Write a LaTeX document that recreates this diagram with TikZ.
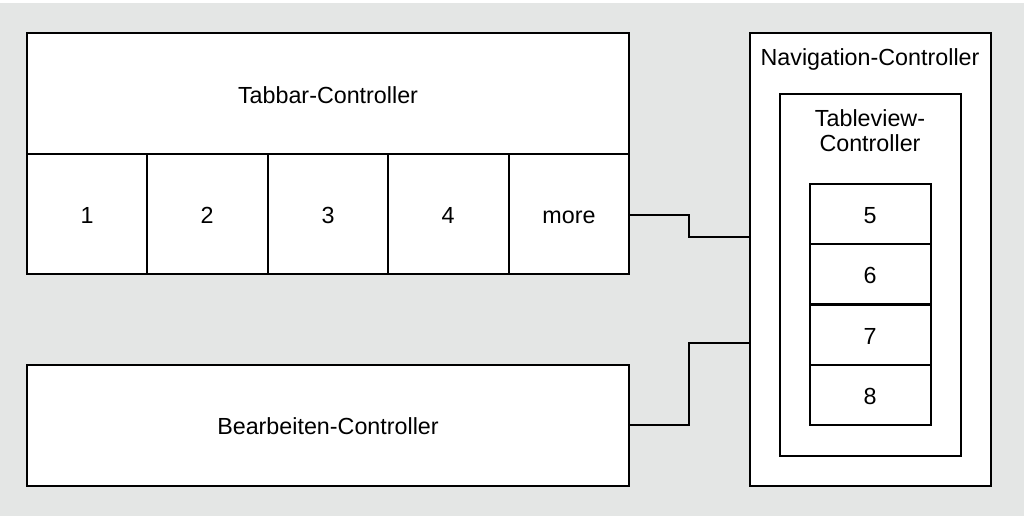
\documentclass[tikz,border=0pt]{standalone}
\usepackage{fontspec}
\setmainfont{Liberation Sans}
\begin{document}
\begin{tikzpicture}[x=1pt,y=-1pt,
  box/.style={draw=black,fill=white,line width=2pt},
  conn/.style={draw=black,line width=2pt},
  lbl/.style={font=\fontsize{23.3}{25}\selectfont,text=black,align=center,inner sep=0pt,anchor=base}]
\definecolor{bg}{HTML}{E4E6E5}
\fill[white] (0,0) rectangle (1024,516);
\fill[bg] (0,3) rectangle (1024,516);
\useasboundingbox (0,0) rectangle (1024,516);
% Tabbar
\draw[box] (27,33) rectangle (629,274);
\draw[conn] (27,154) -- (629,154);
\foreach \x in {147,268,388,509} \draw[conn] (\x,154) -- (\x,274);
\node[lbl] (tabbar) at (328,104) {Tabbar-Controller};
\node[lbl] (c1) at (87,223) {1};
\node[lbl] (c2) at (207,223) {2};
\node[lbl] (c3) at (328,223) {3};
\node[lbl] (c4) at (448,223) {4};
\node[lbl] (more) at (569,223) {more};
\coordinate (moreE) at (629,215);
% Bearbeiten
\draw[box] (27,365) rectangle (629,486);
\node[lbl] (bearb) at (328,434) {Bearbeiten-Controller};
\coordinate (bearbE) at (629,425);
% Navigation
\draw[box] (750,33) rectangle (991,486);
\node[lbl] (nav) at (870,66) {Navigation-Controller};
\draw[box] (780,94) rectangle (961,456);
\node[lbl] (tv) at (870,151) {Tableview-\\Controller};
\foreach \n/\y in {5/184,6/244,7/305,8/365} {
  \draw[box] (810,\y) rectangle (931,\y+60);
  \node[lbl] (n\n) at (870,\y+39) {\n};
}
\coordinate (navA) at (750,237);
\coordinate (navB) at (750,343);
\draw[conn] (moreE) -- (689,215) |- (navA);
\draw[conn] (bearbE) -- (689,425) |- (navB);
\end{tikzpicture}
\end{document}
